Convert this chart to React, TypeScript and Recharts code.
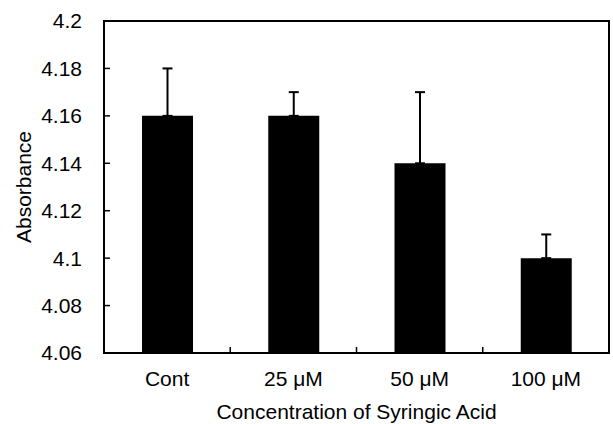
import React from "react";
import { BarChart, Bar, XAxis, YAxis, ErrorBar, ReferenceArea } from "recharts";

const categories = ["Cont", "25 μM", "50 μM", "100 μM"];
const absorbance = [4.16, 4.16, 4.14, 4.1];
const upperError = [0.02, 0.01, 0.03, 0.01];
const yTicks = [4.06, 4.08, 4.1, 4.12, 4.14, 4.16, 4.18, 4.2];
const yDomain: [number, number] = [4.06, 4.2];

const data = categories.map((name, i) => ({
  name,
  value: absorbance[i],
  err: [0, upperError[i]],
}));

const FONT = "'Liberation Sans', Arial, Helvetica, sans-serif";
const FS = 21;

const XTick = (props: any) => {
  const { x, y, payload, index, width, visibleTicksCount } = props;
  const half =
    payload && typeof payload.offset === "number" && payload.offset > 0
      ? payload.offset
      : width / visibleTicksCount / 2;
  return (
    <g>
      {index > 0 && (
        <line x1={x - half} x2={x - half} y1={y} y2={y - 6} stroke="#000" strokeWidth={1.5} />
      )}
      <text x={x} y={y + 33} textAnchor="middle" fontSize={FS} fontFamily={FONT} fill="#000">
        {payload.value}
      </text>
    </g>
  );
};

export default function App() {
  return (
    <div style={{ position: "absolute", left: 0, top: 0, background: "#fff" }}>
      <BarChart
        width={613}
        height={424}
        data={data}
        margin={{ top: 21, right: 4, bottom: 0, left: 0 }}
      >
        <XAxis
          xAxisId="cat"
          dataKey="name"
          height={71}
          tickLine={false}
          tickSize={0}
          tickMargin={0}
          tick={<XTick />}
          axisLine={{ stroke: "#000", strokeWidth: 2 }}
          interval={0}
          label={{
            content: (p: any) => {
              const vb = p.viewBox || {};
              return (
                <text
                  x={vb.x + vb.width / 2}
                  y={vb.y + 66}
                  textAnchor="middle"
                  fontSize={FS}
                  fontFamily={FONT}
                  fill="#000"
                >
                  Concentration of Syringic Acid
                </text>
              );
            },
          }}
        />
        <YAxis
          yAxisId="left"
          width={104}
          domain={yDomain}
          ticks={yTicks}
          allowDataOverflow
          interval={0}
          tickSize={-6}
          tickMargin={28}
          tickLine={{ stroke: "#000", strokeWidth: 1.5 }}
          axisLine={{ stroke: "#000", strokeWidth: 2 }}
          tick={{ fill: "#000", fontSize: FS, fontFamily: FONT }}
          label={{
            content: (p: any) => {
              const vb = p.viewBox || {};
              const cx = vb.x + 23;
              const cy = vb.y + vb.height / 2;
              return (
                <text
                  x={cx}
                  y={cy}
                  transform={`rotate(-90 ${cx} ${cy})`}
                  textAnchor="middle"
                  dominantBaseline="central"
                  fontSize={FS}
                  fontFamily={FONT}
                  fill="#000"
                >
                  Absorbance
                </text>
              );
            },
          }}
        />
        <Bar
          xAxisId="cat"
          yAxisId="left"
          dataKey="value"
          fill="#000"
          barSize={51}
          isAnimationActive={false}
        >
          <ErrorBar
            dataKey="err"
            direction="y"
            width={5}
            stroke="#000"
            strokeWidth={2}
            isAnimationActive={false}
          />
        </Bar>
        <ReferenceArea
          xAxisId="cat"
          yAxisId="left"
          y1={yDomain[0]}
          y2={yDomain[1]}
          fill="none"
          fillOpacity={0}
          stroke="#000"
          strokeWidth={2}
          ifOverflow="visible"
        />
      </BarChart>
    </div>
  );
}
